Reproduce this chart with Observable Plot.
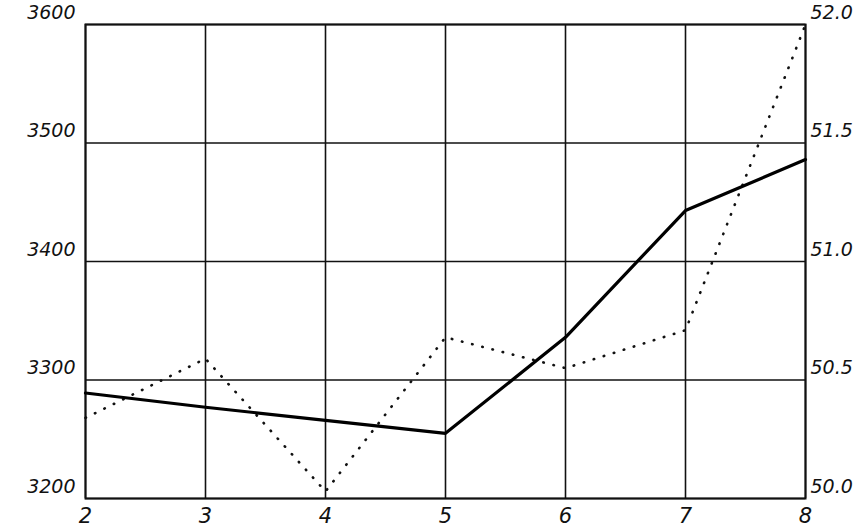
<!DOCTYPE html>
<html>
<head>
<meta charset="utf-8">
<script src="https://cdn.jsdelivr.net/npm/d3@7"></script>
<script src="https://cdn.jsdelivr.net/npm/@observablehq/plot@0.6"></script>
<style>
  html, body { margin: 0; padding: 0; background: #fff; }
  #chart svg { display: block; overflow: visible; }
</style>
</head>
<body>
<div id="chart"></div>
<script>
// Data
const xs = [2, 3, 4, 5, 6, 7, 8];
const solidValues = [3289, 3277, 3266, 3255, 3336, 3443, 3486];      // left axis
const dottedValues = [50.34, 50.59, 50.03, 50.68, 50.55, 50.71, 52.0]; // right axis
const leftTicks = [3200, 3300, 3400, 3500, 3600];
const rightTickLabels = ["50.0", "50.5", "51.0", "51.5", "52.0"];

// right axis 50.0–52.0 is mapped onto the left domain 3200–3600
const toLeft = v => 3200 + (v - 50) * 200;

const solid = xs.map((x, i) => ({x, y: solidValues[i]}));
const dotted = xs.map((x, i) => ({x, y: toLeft(dottedValues[i])}));

const font = "DejaVu Sans, sans-serif";

const chart = Plot.plot({
  width: 865,
  height: 532,
  marginLeft: 85,
  marginRight: 60,
  marginTop: 24,
  marginBottom: 34,
  style: {fontFamily: font, fontStyle: "italic", fontSize: "19px", color: "#111", background: "#fff"},
  x: {domain: [2, 8]},
  y: {domain: [3200, 3600]},
  marks: [
    Plot.gridX(xs, {stroke: "#111", strokeOpacity: 1, strokeWidth: 1.6}),
    Plot.gridY(leftTicks, {stroke: "#111", strokeOpacity: 1, strokeWidth: 1.6}),
    Plot.frame({stroke: "#111", strokeWidth: 2}),
    Plot.axisX(xs, {anchor: "bottom", tickSize: 0, tickPadding: 10, fontSize: 21, label: null, tickFormat: d => String(d)}),
    Plot.axisY(leftTicks, {anchor: "left", tickSize: 0, tickPadding: 10, dy: -12, fontSize: 19, label: null, tickFormat: d => String(d)}),
    Plot.axisY(leftTicks, {anchor: "right", tickSize: 0, tickPadding: 5, dy: -12, fontSize: 19, label: null,
      tickFormat: d => rightTickLabels[leftTicks.indexOf(d)]}),
    Plot.line(dotted, {x: "x", y: "y", stroke: "#111", strokeWidth: 2.6, strokeDasharray: "0.5,10", strokeLinecap: "round"}),
    Plot.line(solid, {x: "x", y: "y", stroke: "#000", strokeWidth: 3.2, strokeLinejoin: "round"})
  ]
});
document.getElementById("chart").appendChild(chart);
</script>
</body>
</html>
